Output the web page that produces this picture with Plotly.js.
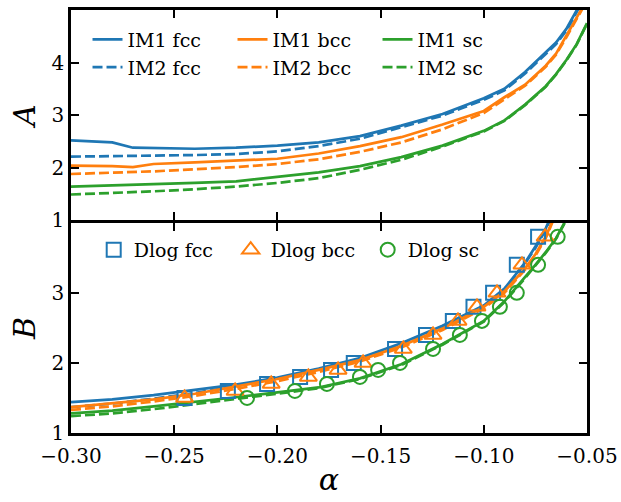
<!DOCTYPE html>
<html>
<head>
<meta charset="utf-8">
<script src="https://cdn.plot.ly/plotly-3.0.1.min.js"></script>
<style>html,body{margin:0;padding:0;background:#fff;}#chart{width:621px;height:502px;}</style>
</head>
<body>
<div id="chart"></div>
<script>
// ---- data ----
// top panel: A(alpha) grid
const alphaTop = [-0.30,-0.28,-0.27,-0.26,-0.24,-0.22,-0.20,-0.18,-0.16,-0.14,-0.12,-0.10,-0.09,-0.08,-0.07,-0.065,-0.06,-0.055,-0.05];
const A_IM1_fcc = [2.52,2.48,2.38,2.37,2.36,2.38,2.42,2.48,2.60,2.80,3.02,3.32,3.50,3.82,4.19,4.38,4.64,4.97,5.35];
const A_IM1_bcc = [2.04,2.03,2.01,2.07,2.10,2.13,2.17,2.27,2.41,2.58,2.82,3.08,3.34,3.58,3.94,4.17,4.50,4.85,5.20];
const A_IM1_sc  = [1.64,1.66,1.67,1.68,1.71,1.74,1.82,1.91,2.03,2.20,2.42,2.70,2.90,3.20,3.55,3.78,4.05,4.35,4.75];
const A_IM2_fcc = [2.21,2.22,2.22,2.23,2.24,2.26,2.31,2.41,2.55,2.77,2.99,3.29,3.47,3.79,4.16,4.35,4.61,4.94,5.32];
const A_IM2_bcc = [1.88,1.90,1.91,1.93,1.97,2.01,2.07,2.16,2.30,2.48,2.73,3.04,3.30,3.56,3.92,4.15,4.48,4.83,5.18];
const A_IM2_sc  = [1.49,1.52,1.53,1.55,1.59,1.64,1.71,1.80,1.96,2.15,2.40,2.69,2.89,3.19,3.54,3.77,4.04,4.34,4.74];

// bottom panel: B(alpha) grid
const alphaBot = [-0.30,-0.28,-0.26,-0.24,-0.22,-0.20,-0.18,-0.16,-0.14,-0.12,-0.10,-0.09,-0.08,-0.075,-0.07,-0.065,-0.06,-0.055];
const B_IM1_fcc = [1.44,1.48,1.54,1.61,1.69,1.79,1.92,2.07,2.28,2.53,2.82,3.06,3.43,3.66,3.92,4.25,4.60,5.00];
const B_IM1_bcc = [1.37,1.42,1.48,1.56,1.66,1.77,1.90,2.04,2.24,2.49,2.80,3.02,3.35,3.55,3.80,4.12,4.50,4.90];
const B_IM1_sc  = [1.28,1.32,1.38,1.44,1.51,1.58,1.65,1.78,1.98,2.27,2.60,2.88,3.22,3.40,3.58,3.78,4.05,4.40];
const B_IM2_fcc = [1.37,1.42,1.49,1.57,1.67,1.78,1.91,2.06,2.27,2.52,2.81,3.05,3.42,3.64,3.90,4.22,4.58,4.98];
const B_IM2_bcc = [1.33,1.38,1.45,1.53,1.63,1.74,1.87,2.02,2.22,2.47,2.78,3.00,3.33,3.53,3.78,4.10,4.48,4.88];
const B_IM2_sc  = [1.24,1.28,1.34,1.41,1.48,1.56,1.64,1.77,1.97,2.26,2.59,2.87,3.21,3.39,3.57,3.77,4.04,4.39];

// Dlog points
const B_dlog = [1.5,1.6,1.7,1.8,1.9,2.0,2.2,2.4,2.6,2.8,3.0,3.4,3.8];
const alpha_dlog_fcc = [-0.245,-0.224,-0.205,-0.189,-0.174,-0.163,-0.143,-0.128,-0.115,-0.105,-0.0955,-0.084,-0.0737];
const alpha_dlog_bcc = [-0.245,-0.2205,-0.203,-0.185,-0.1706,-0.1585,-0.139,-0.1246,-0.1125,-0.1033,-0.0936,-0.0815,-0.0703];
const alpha_dlog_sc  = [-0.2147,-0.1915,-0.176,-0.160,-0.1512,-0.1406,-0.1246,-0.1116,-0.1009,-0.0922,-0.084,-0.0737,-0.0642];

const xTicks = [-0.30,-0.25,-0.20,-0.15,-0.10,-0.05];
const yTicksTop = [1,2,3,4];
const yTicksBot = [1,2,3,4];
const yTextBot = ['1','2','3',''];

// ---- styling ----
const C = {fcc:'#1f77b4', bcc:'#ff7f0e', sc:'#2ca02c'};
const FONT = '"DejaVu Serif", "Liberation Serif", serif';
const LW = 2.7;
const DASH = '10px,4px';

function line(x, y, name, color, dash, xa, ya, show, leg) {
  return {x:x, y:y, name:name, type:'scatter', mode:'lines', xaxis:xa, yaxis:ya,
    line:{color:color, width:LW, dash:dash}, showlegend:show, legend:leg||'legend'};
}

const traces = [
  line(alphaTop, A_IM1_fcc, 'IM1 fcc', C.fcc, 'solid', 'x', 'y', true),
  line(alphaTop, A_IM1_bcc, 'IM1 bcc', C.bcc, 'solid', 'x', 'y', true),
  line(alphaTop, A_IM1_sc,  'IM1 sc',  C.sc,  'solid', 'x', 'y', true),
  line(alphaTop, A_IM2_fcc, 'IM2 fcc', C.fcc, DASH, 'x', 'y', true),
  line(alphaTop, A_IM2_bcc, 'IM2 bcc', C.bcc, DASH, 'x', 'y', true),
  line(alphaTop, A_IM2_sc,  'IM2 sc',  C.sc,  DASH, 'x', 'y', true),

  line(alphaBot, B_IM1_fcc, 'IM1 fcc', C.fcc, 'solid', 'x2', 'y2', false),
  line(alphaBot, B_IM2_fcc, 'IM2 fcc', C.fcc, DASH, 'x2', 'y2', false),
  line(alphaBot, B_IM1_bcc, 'IM1 bcc', C.bcc, 'solid', 'x2', 'y2', false),
  line(alphaBot, B_IM2_bcc, 'IM2 bcc', C.bcc, DASH, 'x2', 'y2', false),
  line(alphaBot, B_IM1_sc,  'IM1 sc',  C.sc,  'solid', 'x2', 'y2', false),
  line(alphaBot, B_IM2_sc,  'IM2 sc',  C.sc,  DASH, 'x2', 'y2', false),

  {x:alpha_dlog_fcc, y:B_dlog, name:'Dlog fcc', type:'scatter', mode:'markers', xaxis:'x2', yaxis:'y2', legend:'legend2',
   marker:{symbol:'square-open', size:14, color:C.fcc, line:{width:2, color:C.fcc}}},
  {x:alpha_dlog_bcc, y:B_dlog, name:'Dlog bcc', type:'scatter', mode:'markers', xaxis:'x2', yaxis:'y2', legend:'legend2',
   marker:{symbol:'triangle-up-open', size:15, color:C.bcc, line:{width:2, color:C.bcc}}},
  {x:alpha_dlog_sc, y:B_dlog, name:'Dlog sc', type:'scatter', mode:'markers', xaxis:'x2', yaxis:'y2', legend:'legend2',
   marker:{symbol:'circle-open', size:14, color:C.sc, line:{width:2, color:C.sc}}}
];

const axCommon = {
  showline:true, linecolor:'#000', linewidth:2.7, mirror:'ticks',
  ticks:'inside', ticklen:8, tickwidth:2, tickcolor:'#000',
  showgrid:false, zeroline:false,
  tickfont:{family:FONT, size:20, color:'#000'}
};

const layout = {
  width:621, height:502,
  margin:{l:71, r:34, t:10, b:69},
  paper_bgcolor:'#fff', plot_bgcolor:'#fff',
  font:{family:FONT, color:'#000'},
  xaxis: Object.assign({}, axCommon, {domain:[0,1], anchor:'y', range:[-0.30,-0.05], tickvals:xTicks, showticklabels:false}),
  yaxis: Object.assign({}, axCommon, {domain:[0.503,1], anchor:'x', range:[1,5], tickvals:yTicksTop,
    title:{text:'<i>A</i>', font:{family:FONT, size:30, color:'#000'}, standoff:7}}),
  xaxis2: Object.assign({}, axCommon, {domain:[0,1], anchor:'y2', range:[-0.30,-0.05], tickvals:xTicks, tickformat:'.2f',
    ticklabelstandoff:3,
    title:{text:'<i>α</i>', font:{family:FONT, size:30, color:'#000'}, standoff:3}}),
  yaxis2: Object.assign({}, axCommon, {domain:[0,0.497], anchor:'x2', range:[1,4], tickvals:yTicksBot, ticktext:yTextBot,
    title:{text:'<i>B</i>', font:{family:FONT, size:30, color:'#000'}, standoff:7}}),
  legend:{x:0.032, y:0.975, xanchor:'left', yanchor:'top', orientation:'h',
    bgcolor:'rgba(0,0,0,0)', borderwidth:0, font:{family:FONT, size:19, color:'#000'},
    entrywidth:100, entrywidthmode:'pixels'},
  legend2:{x:0.044, y:0.478, xanchor:'left', yanchor:'top', orientation:'h',
    bgcolor:'rgba(0,0,0,0)', borderwidth:0, font:{family:FONT, size:19, color:'#000'},
    entrywidth:92, entrywidthmode:'pixels'},
  showlegend:true
};

Plotly.newPlot('chart', traces, layout, {staticPlot:true, displayModeBar:false});
</script>
</body>
</html>
